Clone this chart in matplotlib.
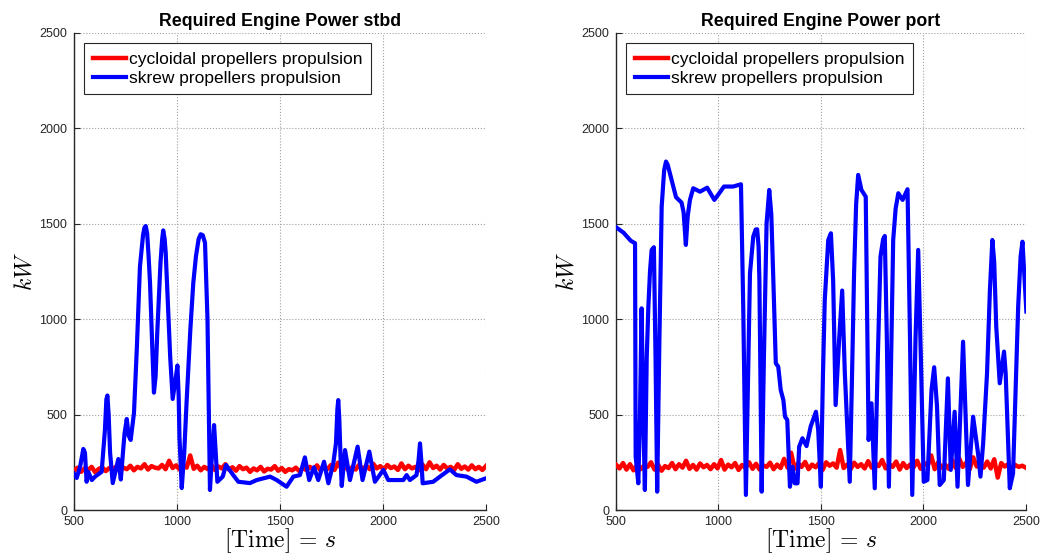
import numpy as np
import matplotlib
matplotlib.use("Agg")
import matplotlib.pyplot as plt

plt.rcParams['font.family'] = ['Liberation Sans', 'DejaVu Sans']
plt.rcParams['mathtext.fontset'] = 'cm'

# ---------------- data ----------------
titles = ["Required Engine Power stbd", "Required Engine Power port"]
legend_labels = ["cycloidal propellers propulsion", "skrew propellers propulsion"]
x_ticks = [500, 1000, 1500, 2000, 2500]
y_ticks = [0, 500, 1000, 1500, 2000, 2500]

stbd_red = [205, 222, 200, 218, 210, 226, 198, 215, 224, 204, 220, 212,
            228, 206, 222, 214, 232, 208, 226, 218, 240, 212, 230, 222,
            218, 236, 214, 258, 220, 234, 212, 238, 222, 286, 216, 232,
            208, 226, 214, 236, 210, 228, 218, 240, 212, 224, 206, 230,
            214, 222, 200, 218, 208, 226, 202, 216, 212, 230, 206, 220,
            200, 214, 208, 222, 204, 218, 210, 226, 212, 234, 208, 228,
            214, 236, 210, 248, 216, 230, 206, 224, 212, 238, 210, 232,
            214, 242, 218, 230, 212, 236, 220, 228, 210, 244, 214, 232,
            218, 226, 208, 238, 214, 250, 220, 232, 212, 236, 218, 226,
            210, 240, 216, 228, 212, 234, 214, 226, 210, 230]

stbd_blue_t = [500, 513, 530, 545, 553, 561, 569, 586, 602, 634, 650, 657, 662, 668, 675,
               688, 715, 727, 745, 756, 765, 775, 791, 805, 820, 835, 842, 848, 855, 862,
               869, 880, 888, 896, 904, 920, 928, 933, 940, 945, 955, 967, 979, 995, 1002,
               1008, 1012, 1023, 1035, 1047, 1065, 1079, 1092, 1105, 1115, 1125, 1136,
               1148, 1160, 1172, 1180, 1188, 1196, 1222, 1238, 1273, 1298, 1354, 1387,
               1452, 1484, 1532, 1565, 1597, 1621, 1642, 1665, 1686, 1714, 1735, 1759,
               1772, 1779, 1783, 1788, 1795, 1800, 1816, 1840, 1877, 1901, 1934, 1961,
               2002, 2026, 2099, 2115, 2131, 2163, 2173, 2180, 2187, 2193, 2244, 2277,
               2325, 2357, 2406, 2454, 2500]
stbd_blue_p = [190, 168, 230, 320, 300, 148, 200, 157, 175, 200, 420, 580, 600, 500, 300,
               141, 267, 160, 400, 477, 390, 367, 508, 850, 1275, 1440, 1480, 1488, 1450,
               1330, 1189, 850, 615, 700, 927, 1300, 1420, 1465, 1420, 1350, 1100, 800,
               582, 700, 757, 600, 380, 115, 300, 576, 950, 1189, 1330, 1420, 1445, 1440,
               1400, 1000, 105, 330, 445, 300, 148, 175, 236, 183, 148, 141, 157, 175, 157,
               122, 175, 183, 276, 157, 224, 157, 253, 140, 245, 350, 530, 576, 480, 250,
               126, 314, 157, 332, 157, 306, 148, 210, 157, 157, 183, 157, 183, 260, 349,
               250, 140, 148, 175, 213, 183, 175, 148, 166]

port_red = [238, 218, 246, 212, 240, 208, 236, 214, 232, 226, 250, 212,
            238, 206, 230, 220, 246, 214, 240, 222, 258, 216, 236, 212,
            244, 224, 236, 214, 240, 218, 262, 212, 238, 224, 246, 210,
            236, 220, 250, 216, 242, 212, 234, 226, 248, 214, 238, 220,
            268, 222, 300, 216, 244, 226, 252, 214, 238, 224, 246, 210,
            250, 232, 244, 222, 314, 220, 238, 214, 248, 226, 240, 218,
            256, 222, 244, 230, 262, 218, 240, 226, 254, 212, 246, 220,
            238, 224, 258, 216, 246, 232, 286, 214, 250, 222, 238, 216,
            262, 220, 270, 226, 248, 214, 276, 228, 240, 222, 254, 218,
            266, 170, 246, 228, 240, 214, 236, 226, 232, 222]

port_blue_t = [500, 537, 572, 593, 596, 609, 617, 625, 633, 641, 650, 658, 666, 674, 685,
               693, 701, 712, 723, 735, 744, 752, 763, 793, 820, 830, 841, 850, 861, 877,
               910, 945, 980, 1004, 1027, 1072, 1110, 1121, 1134, 1154, 1170, 1182, 1189,
               1196, 1200, 1211, 1222, 1235, 1248, 1258, 1267, 1280, 1292, 1304, 1317, 1325,
               1336, 1349, 1362, 1373, 1386, 1394, 1410, 1430, 1450, 1476, 1487, 1500, 1510,
               1519, 1536, 1549, 1560, 1572, 1589, 1604, 1617, 1641, 1652, 1662, 1672, 1682,
               1698, 1719, 1733, 1747, 1763, 1778, 1791, 1804, 1812, 1822, 1832, 1853, 1865,
               1878, 1899, 1923, 1935, 1946, 1962, 1975, 1988, 2002, 2020, 2040, 2053, 2067,
               2080, 2100, 2120, 2134, 2153, 2167, 2194, 2218, 2243, 2267, 2279, 2292, 2311,
               2325, 2337, 2346, 2356, 2373, 2394, 2402, 2422, 2438, 2463, 2475, 2484, 2503]
port_blue_p = [1482, 1453, 1411, 1398, 280, 140, 500, 1057, 500, 105, 800, 1066, 1250, 1363,
               1377, 800, 96, 900, 1590, 1780, 1826, 1810, 1765, 1639, 1611, 1560, 1389, 1540,
               1625, 1686, 1668, 1689, 1625, 1660, 1695, 1695, 1707, 1066, 79, 1240, 1433,
               1470, 1471, 1380, 1200, 96, 800, 1502, 1677, 1550, 1240, 769, 751, 629, 576,
               489, 472, 122, 227, 140, 140, 332, 376, 335, 437, 515, 419, 122, 700, 1100,
               1415, 1450, 1200, 550, 891, 1150, 716, 148, 700, 1240, 1600, 1756, 1677, 1642,
               367, 559, 114, 800, 1328, 1420, 1436, 900, 122, 1415, 1580, 1660, 1625, 1681,
               900, 79, 900, 1363, 800, 148, 157, 629, 748, 541, 131, 157, 690, 210, 515, 122,
               882, 131, 489, 297, 175, 349, 716, 1150, 1415, 1300, 961, 664, 830, 716, 114,
               192, 1066, 1330, 1406, 1040]

# ---------------- plot ----------------
fig = plt.figure(figsize=(10.4, 5.58), dpi=100)
ax_rects = [[0.0712, 0.086, 0.396, 0.855], [0.5923, 0.086, 0.394, 0.855]]
series = [(stbd_red, stbd_blue_t, stbd_blue_p), (port_red, port_blue_t, port_blue_p)]
axc = '#262626'

for rect, title, (red, bt, bp) in zip(ax_rects, titles, series):
    ax = fig.add_axes(rect)
    red_t = np.linspace(500, 2500, len(red))
    ax.plot(red_t, red, color='#ff0000', lw=3.2, label=legend_labels[0], zorder=3)
    ax.plot(bt, bp, color='#0000ff', lw=3.0, label=legend_labels[1], zorder=4,
            solid_joinstyle='round')
    ax.set_xlim(500, 2500)
    ax.set_ylim(0, 2500)
    ax.set_xticks(x_ticks)
    ax.set_yticks(y_ticks)
    ax.grid(True, linestyle=':', color='#a0a0a0', lw=0.8)
    ax.set_axisbelow(True)
    for s in ['top', 'right']:
        ax.spines[s].set_visible(False)
    for s in ['left', 'bottom']:
        ax.spines[s].set_color(axc)
        ax.spines[s].set_linewidth(1.0)
    ax.tick_params(direction='in', length=4, width=0.8, colors=axc, labelsize=9,
                   labelcolor=axc)
    ax.tick_params(axis='x', pad=4)
    ax.tick_params(axis='y', pad=5)
    ax.set_title(title, fontsize=12.8, fontweight='bold', pad=5)
    ax.set_xlabel(r'$[\mathrm{Time}]\,=\,s$', fontsize=17, labelpad=-1)
    ax.set_ylabel(r'$kW$', fontsize=17, labelpad=2)
    leg = ax.legend(loc='upper left', fontsize=12.5, fancybox=False, framealpha=1,
                    edgecolor=axc, handlelength=1.9, handletextpad=0.15,
                    borderpad=0.5, labelspacing=0.2, borderaxespad=0.6)
    leg.get_frame().set_linewidth(0.8)

fig.savefig('out.png', dpi=100)
